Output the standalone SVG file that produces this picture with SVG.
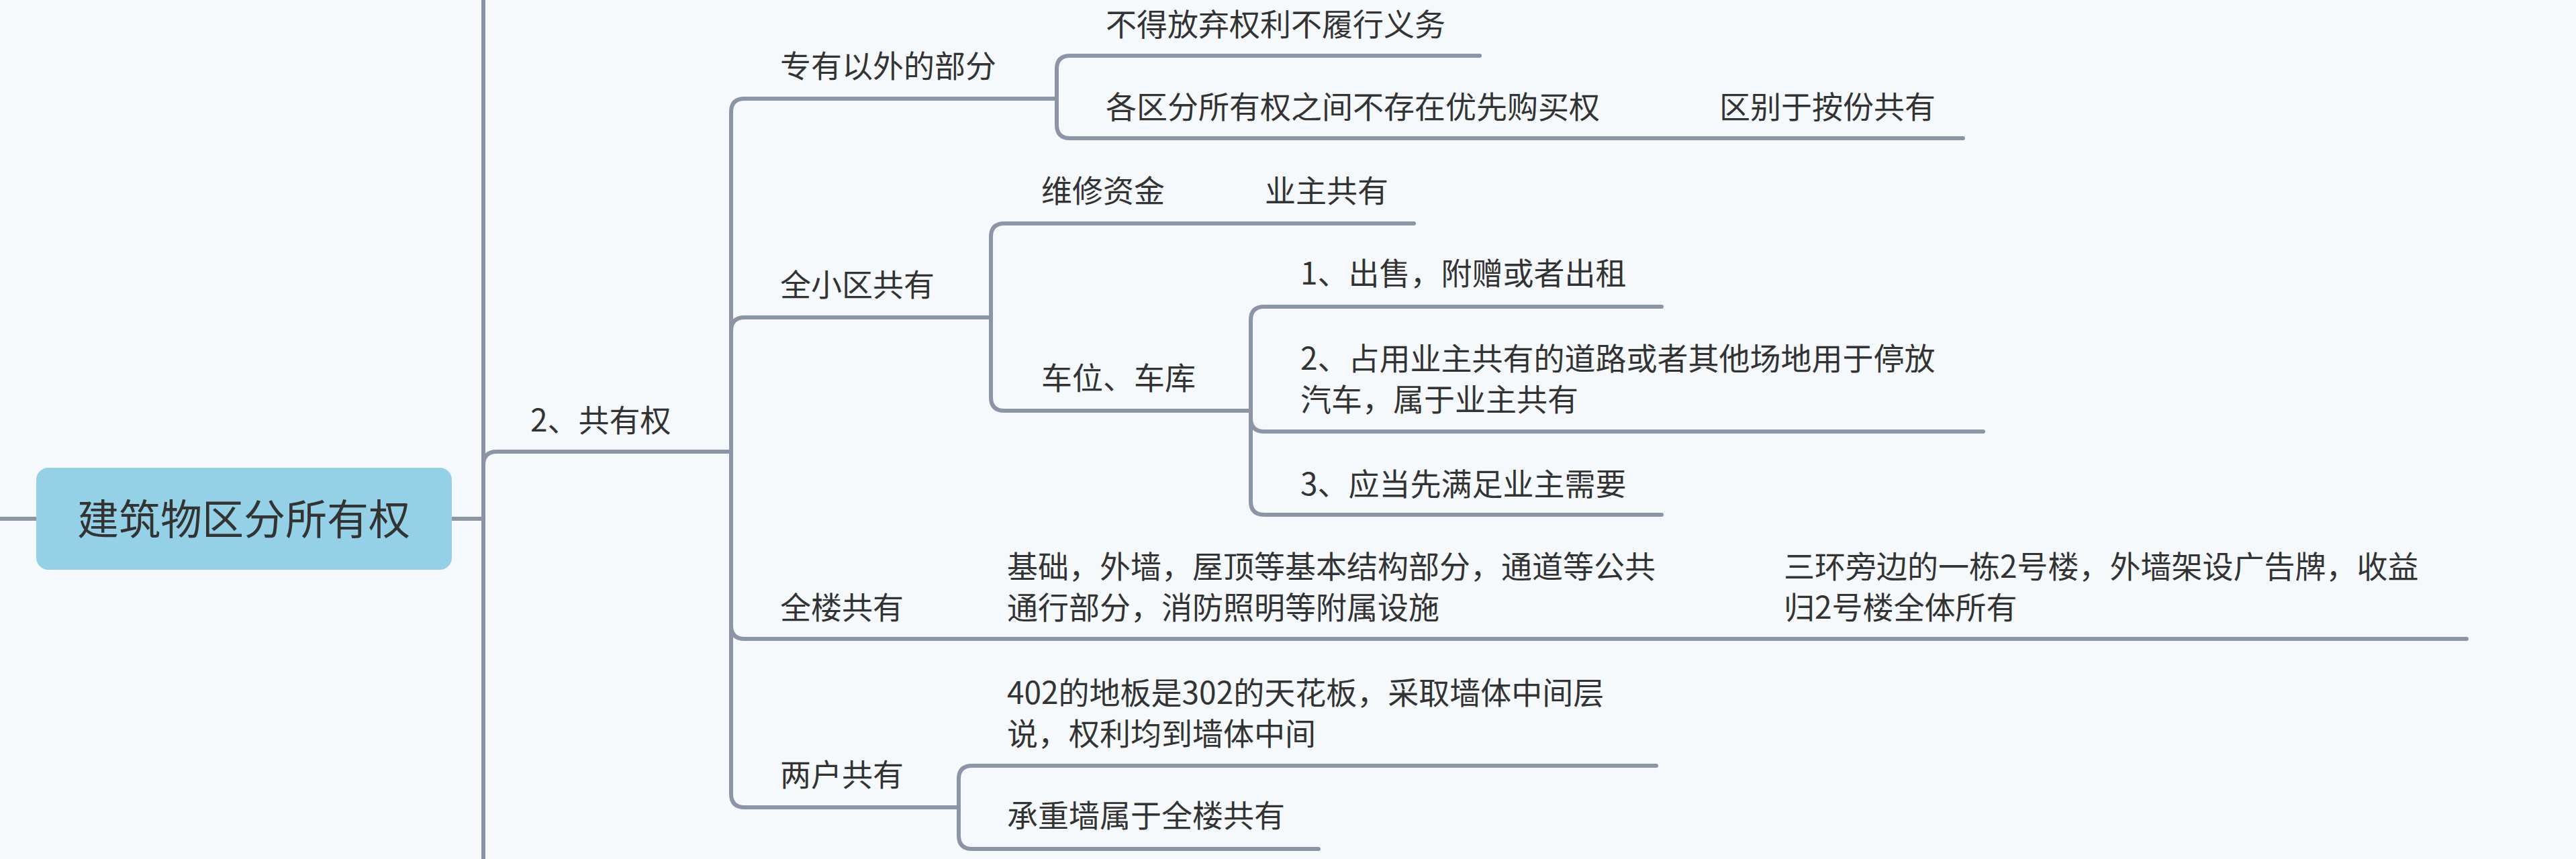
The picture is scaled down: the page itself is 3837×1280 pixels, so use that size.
<svg xmlns="http://www.w3.org/2000/svg" width="3837" height="1280" viewBox="0 0 3837 1280">
<style>
.c{fill:none;stroke:#8c95a6;stroke-width:6;stroke-linecap:round}
.t{font-family:"Noto Sans CJK SC","Liberation Sans",sans-serif;font-size:46px;fill:#333}
.r{font-family:"Noto Sans CJK SC","Liberation Sans",sans-serif;font-size:62px;fill:#333}
</style>
<rect width="3837" height="1280" fill="#f5f9fc"/>
<g id="connectors">
<path class="c" d="M0,773H54M673,773H720M720,0V1280"/>
<path class="c" d="M720,773V693Q720,673 740,673H1089"/>
<path class="c" d="M1089,673V167Q1089,147 1109,147H1574"/>
<path class="c" d="M1089,673V493Q1089,473 1109,473H1476"/>
<path class="c" d="M1089,673V932Q1089,952 1109,952H3674"/>
<path class="c" d="M1089,673V1183Q1089,1203 1109,1203H1428"/>
<path class="c" d="M1574,147V103Q1574,83 1594,83H2204"/>
<path class="c" d="M1574,147V186Q1574,206 1594,206H2924"/>
<path class="c" d="M1476,473V353Q1476,333 1496,333H2106"/>
<path class="c" d="M1476,473V592Q1476,612 1496,612H1863"/>
<path class="c" d="M1863,612V477Q1863,457 1883,457H2475"/>
<path class="c" d="M1863,612V623Q1863,643 1883,643H2954"/>
<path class="c" d="M1863,612V747Q1863,767 1883,767H2475"/>
<path class="c" d="M1428,1203V1161Q1428,1141 1448,1141H2467"/>
<path class="c" d="M1428,1203V1245Q1428,1265 1448,1265H1964"/>
</g>
<g id="root"><rect x="54" y="697" width="619" height="152" rx="18" fill="#94d0e6"/><text class="r" x="363" y="797" text-anchor="middle">建筑物区分所有权</text></g>
<g id="n-gongyou"><text class="t" x="790" y="643">2、共有权</text></g>
<g id="n-zhuanyou"><text class="t" x="1162" y="115">专有以外的部分</text></g>
<g id="n-bude"><text class="t" x="1647" y="53">不得放弃权利不履行义务</text></g>
<g id="n-gequ"><text class="t" x="1647" y="176">各区分所有权之间不存在优先购买权</text></g>
<g id="n-qubie"><text class="t" x="2561" y="176">区别于按份共有</text></g>
<g id="n-quanxiaoqu"><text class="t" x="1162" y="441">全小区共有</text></g>
<g id="n-weixiu"><text class="t" x="1551" y="301">维修资金</text></g>
<g id="n-yezhu"><text class="t" x="1884" y="301">业主共有</text></g>
<g id="n-chewei"><text class="t" x="1551" y="580">车位、车库</text></g>
<g id="n-c1"><text class="t" x="1937" y="424">1、出售，附赠或者出租</text></g>
<g id="n-c2"><text class="t" x="1937" y="551">2、占用业主共有的道路或者其他场地用于停放<tspan x="1937" y="612">汽车，属于业主共有</tspan></text></g>
<g id="n-c3"><text class="t" x="1937" y="738">3、应当先满足业主需要</text></g>
<g id="n-quanlou"><text class="t" x="1162" y="922">全楼共有</text></g>
<g id="n-jichu"><text class="t" x="1500" y="861">基础，外墙，屋顶等基本结构部分，通道等公共<tspan x="1500" y="922">通行部分，消防照明等附属设施</tspan></text></g>
<g id="n-sanhuan"><text class="t" x="2657" y="861">三环旁边的一栋2号楼，外墙架设广告牌，收益<tspan x="2657" y="922">归2号楼全体所有</tspan></text></g>
<g id="n-lianghu"><text class="t" x="1162" y="1171">两户共有</text></g>
<g id="n-402"><text class="t" x="1500" y="1049">402的地板是302的天花板，采取墙体中间层<tspan x="1500" y="1110">说，权利均到墙体中间</tspan></text></g>
<g id="n-chengzhong"><text class="t" x="1500" y="1232">承重墙属于全楼共有</text></g>
</svg>
